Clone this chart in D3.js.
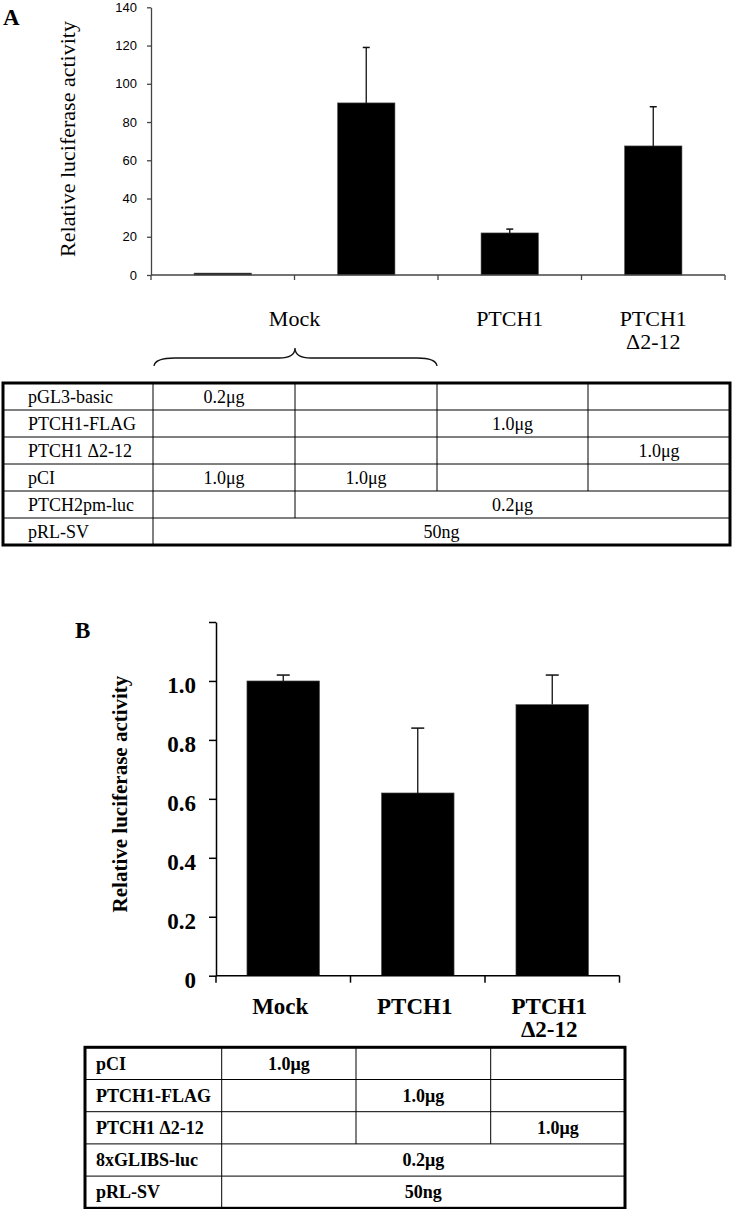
<!DOCTYPE html>
<html>
<head>
<meta charset="utf-8">
<script src="https://cdn.jsdelivr.net/npm/d3@7"></script>
<style>
  body { margin: 0; background: #fff; }
  svg { display: block; }
</style>
</head>
<body>
<div id="chart"></div>
<script>
// ---- panel A: relative luciferase activity (PTCH2pm-luc)
const groupsA = ["Mock basic", "Mock", "PTCH1", "PTCH1 Δ2-12"];
const valuesA = [1, 90, 22, 67.5];
const errorsA = [0, 29, 2, 20.5];
const ticksA = [0, 20, 40, 60, 80, 100, 120, 140];
const labelsA = [
    { lines: ["Mock"], from: 0, to: 1 },
    { lines: ["PTCH1"], from: 2, to: 2 },
    { lines: ["PTCH1", "Δ2-12"], from: 3, to: 3 }
];

// ---- panel B: relative luciferase activity (8xGLIBS-luc)
const groupsB = ["Mock", "PTCH1", "PTCH1 Δ2-12"];
const valuesB = [1.0, 0.62, 0.92];
const errorsB = [0.02, 0.22, 0.10];
const ticksB = [0, 0.2, 0.4, 0.6, 0.8, 1.0, 1.2];
const labelsB = [
    { lines: ["Mock"], from: 0, to: 0 },
    { lines: ["PTCH1"], from: 1, to: 1 },
    { lines: ["PTCH1", "Δ2-12"], from: 2, to: 2 }
];

// ---- transfection tables: [text, column span]
const rowLabelsA = ["pGL3-basic", "PTCH1-FLAG", "PTCH1 Δ2-12", "pCI", "PTCH2pm-luc", "pRL-SV"];
const cellsA = [
    [["0.2μg", 1], ["", 1], ["", 1], ["", 1]],
    [["", 1], ["", 1], ["1.0μg", 1], ["", 1]],
    [["", 1], ["", 1], ["", 1], ["1.0μg", 1]],
    [["1.0μg", 1], ["1.0μg", 1], ["", 1], ["", 1]],
    [["", 1], ["0.2μg", 3]],
    [["50ng", 4]]
];
const rowLabelsB = ["pCI", "PTCH1-FLAG", "PTCH1 Δ2-12", "8xGLIBS-luc", "pRL-SV"];
const cellsB = [
    [["1.0μg", 1], ["", 1], ["", 1]],
    [["", 1], ["1.0μg", 1], ["", 1]],
    [["", 1], ["", 1], ["1.0μg", 1]],
    [["0.2μg", 3]],
    [["50ng", 3]]
];

const SERIF = '"Liberation Serif", "Times New Roman", serif';
const SANS = '"Liberation Sans", Arial, sans-serif';

const svg = d3.select("#chart")
    .append("svg")
    .attr("width", 732)
    .attr("height", 1209)
    .attr("xmlns", "http://www.w3.org/2000/svg");

svg.append("rect").attr("width", 732).attr("height", 1209).attr("fill", "#fff");

function drawBars(opt) {
    const g = svg.append("g");
    const x = d3.scaleBand()
        .domain(opt.groups)
        .range(opt.xRange)
        .paddingInner(opt.padInner)
        .paddingOuter(opt.padOuter);
    const y = d3.scaleLinear().domain(opt.yDomain).range(opt.yRange);
    const slot = x.step() * opt.padOuter; // band boundary offset

    // y axis
    const yAxis = g.append("g")
        .attr("transform", "translate(" + opt.xRange[0] + ",0)")
        .call(d3.axisLeft(y)
            .tickValues(opt.ticks)
            .tickFormat(opt.tickFormat)
            .tickSize(opt.tickSize)
            .tickPadding(opt.tickPadding)
            .tickSizeOuter(0));
    yAxis.select(".domain").attr("stroke", opt.axisColor).attr("stroke-width", opt.axisWidth);
    yAxis.selectAll(".tick line").attr("stroke", opt.axisColor).attr("stroke-width", opt.axisWidth);
    yAxis.selectAll(".tick text")
        .attr("fill", "#000")
        .attr("dy", opt.tickDy)
        .style("font-family", opt.tickFont)
        .style("font-size", opt.tickFontSize + "px")
        .style("font-weight", opt.bold ? "bold" : "normal");

    // bars
    g.selectAll(".bar")
        .data(opt.groups)
        .enter()
        .append("rect")
        .attr("class", "bar")
        .attr("x", d => x(d))
        .attr("width", x.bandwidth())
        .attr("y", (d, i) => y(opt.values[i]))
        .attr("height", (d, i) => y(0) - y(opt.values[i]))
        .attr("fill", "#000")
        .attr("stroke", "#555")
        .attr("stroke-width", 0.6);

    // error bars (upper only)
    const err = g.selectAll(".err")
        .data(opt.groups.filter((d, i) => opt.errors[i] > 0))
        .enter()
        .append("g")
        .attr("class", "err");
    const idx = d => opt.groups.indexOf(d);
    err.append("line")
        .attr("x1", d => x(d) + x.bandwidth() / 2)
        .attr("x2", d => x(d) + x.bandwidth() / 2)
        .attr("y1", d => y(opt.values[idx(d)]))
        .attr("y2", d => y(opt.values[idx(d)] + opt.errors[idx(d)]))
        .attr("stroke", "#111")
        .attr("stroke-width", 1.3);
    err.append("line")
        .attr("x1", d => x(d) + x.bandwidth() / 2 - opt.capW / 2)
        .attr("x2", d => x(d) + x.bandwidth() / 2 + opt.capW / 2)
        .attr("y1", d => y(opt.values[idx(d)] + opt.errors[idx(d)]))
        .attr("y2", d => y(opt.values[idx(d)] + opt.errors[idx(d)]))
        .attr("stroke", "#111")
        .attr("stroke-width", 1.5);

    // x axis with ticks at band boundaries
    const y0 = y(0);
    g.append("line")
        .attr("x1", opt.xRange[0]).attr("x2", opt.xRange[1])
        .attr("y1", y0).attr("y2", y0)
        .attr("stroke", opt.axisColor).attr("stroke-width", opt.axisWidth);
    const bounds = opt.groups.map(d => x(d) - slot).concat([opt.xRange[1]]);
    g.selectAll(".xtick")
        .data(bounds)
        .enter()
        .append("line")
        .attr("x1", d => d).attr("x2", d => d)
        .attr("y1", y0).attr("y2", y0 + opt.xTickSize)
        .attr("stroke", opt.axisColor).attr("stroke-width", opt.axisWidth);

    // category labels
    opt.labels.forEach(l => {
        const cx = (x(opt.groups[l.from]) + x(opt.groups[l.to]) + x.bandwidth()) / 2 + (opt.labelShift || 0);
        l.lines.forEach((s, k) => {
            g.append("text")
                .attr("x", cx)
                .attr("y", opt.labelY + k * opt.labelLine)
                .attr("text-anchor", "middle")
                .style("font-family", SERIF)
                .style("font-size", opt.labelSize + "px")
                .style("font-weight", opt.bold ? "bold" : "normal")
                .text(s);
        });
    });

    // y title
    g.append("text")
        .attr("transform", "translate(" + opt.titleX + "," + opt.titleY + ") rotate(-90)")
        .attr("text-anchor", "middle")
        .style("font-family", SERIF)
        .style("font-size", opt.titleSize + "px")
        .style("font-weight", opt.bold ? "bold" : "normal")
        .text("Relative luciferase activity");

    // panel letter
    g.append("text")
        .attr("x", opt.letterX).attr("y", opt.letterY)
        .style("font-family", SERIF)
        .style("font-size", "23px")
        .style("font-weight", "bold")
        .text(opt.letter);

    return { x: x, y: y };
}

function drawTable(opt) {
    const g = svg.append("g");
    const e = opt.edges;
    const top = opt.top, rh = opt.rowH;
    const n = opt.rowLabels.length;
    const font = g => g.style("font-family", SERIF)
        .style("font-size", opt.fontSize + "px")
        .style("font-weight", opt.bold ? "bold" : "normal");

    opt.rowLabels.forEach((label, r) => {
        const ry = top + r * rh;
        const base = ry + rh / 2 + opt.fontSize * 0.34;
        g.append("text")
            .attr("x", e[0] + opt.labelPad).attr("y", base)
            .call(font)
            .text(label);
        let c = 1;
        opt.cells[r].forEach(cell => {
            const xa = e[c], xb = e[c + cell[1]];
            if (cell[0]) {
                g.append("text")
                    .attr("x", (xa + xb) / 2).attr("y", base)
                    .attr("text-anchor", "middle")
                    .call(font)
                    .text(cell[0]);
            }
            g.append("line")
                .attr("x1", xa).attr("x2", xa)
                .attr("y1", ry).attr("y2", ry + rh)
                .attr("stroke", "#000").attr("stroke-width", 1);
            c += cell[1];
        });
        if (r > 0) {
            g.append("line")
                .attr("x1", e[0]).attr("x2", e[e.length - 1])
                .attr("y1", ry).attr("y2", ry)
                .attr("stroke", "#000").attr("stroke-width", 1);
        }
    });

    g.append("rect")
        .attr("x", e[0]).attr("y", top)
        .attr("width", e[e.length - 1] - e[0])
        .attr("height", n * rh)
        .attr("fill", "none")
        .attr("stroke", "#000")
        .attr("stroke-width", 3);
}

// ---- panel A
drawBars({
    groups: groupsA, values: valuesA, errors: errorsA, ticks: ticksA, labels: labelsA,
    xRange: [151, 725], padInner: 0.6, padOuter: 0.3,
    yDomain: [0, 140], yRange: [275, 7.3],
    tickFormat: d3.format("d"), tickSize: 4, tickPadding: 10, tickDy: "0.32em",
    tickFont: SANS, tickFontSize: 13, bold: false,
    axisColor: "#444", axisWidth: 1.3, xTickSize: 5, capW: 7,
    labelY: 326, labelLine: 23, labelSize: 22,
    titleX: 75, titleY: 139, titleSize: 22,
    letter: "A", letterX: 3, letterY: 25
});

// brace over the two mock lanes
svg.append("path")
    .attr("d", "M154,366 Q155,358 175,358 L279,358 Q295,358 295,348 Q295,358 311,358 L417,358 Q436,358 437,366")
    .attr("fill", "none")
    .attr("stroke", "#111")
    .attr("stroke-width", 1.3);

drawTable({
    rowLabels: rowLabelsA, cells: cellsA,
    edges: [3, 153, 295, 437, 588, 730],
    top: 383, rowH: 27, fontSize: 18, bold: false, labelPad: 25
});

// ---- panel B
drawBars({
    groups: groupsB, values: valuesB, errors: errorsB, ticks: ticksB, labels: labelsB,
    xRange: [216, 619.5], padInner: 0.46, padOuter: 0.23,
    yDomain: [0, 1.2], yRange: [975.7, 622],
    tickFormat: d => d === 0 ? "0" : (d === 1.2 ? "" : d.toFixed(1)),
    tickSize: 7, tickPadding: 13, tickDy: "0.5em",
    tickFont: SERIF, tickFontSize: 23, bold: true,
    axisColor: "#000", axisWidth: 1.5, xTickSize: 7, capW: 13,
    labelY: 1014, labelLine: 23, labelSize: 23, labelShift: -3,
    titleX: 127, titleY: 794, titleSize: 21,
    letter: "B", letterX: 75, letterY: 638
});

drawTable({
    rowLabels: rowLabelsB, cells: cellsB,
    edges: [85, 221.7, 356, 490.7, 625],
    top: 1047.3, rowH: 32.2, fontSize: 18, bold: true, labelPad: 11
});
</script>
</body>
</html>
